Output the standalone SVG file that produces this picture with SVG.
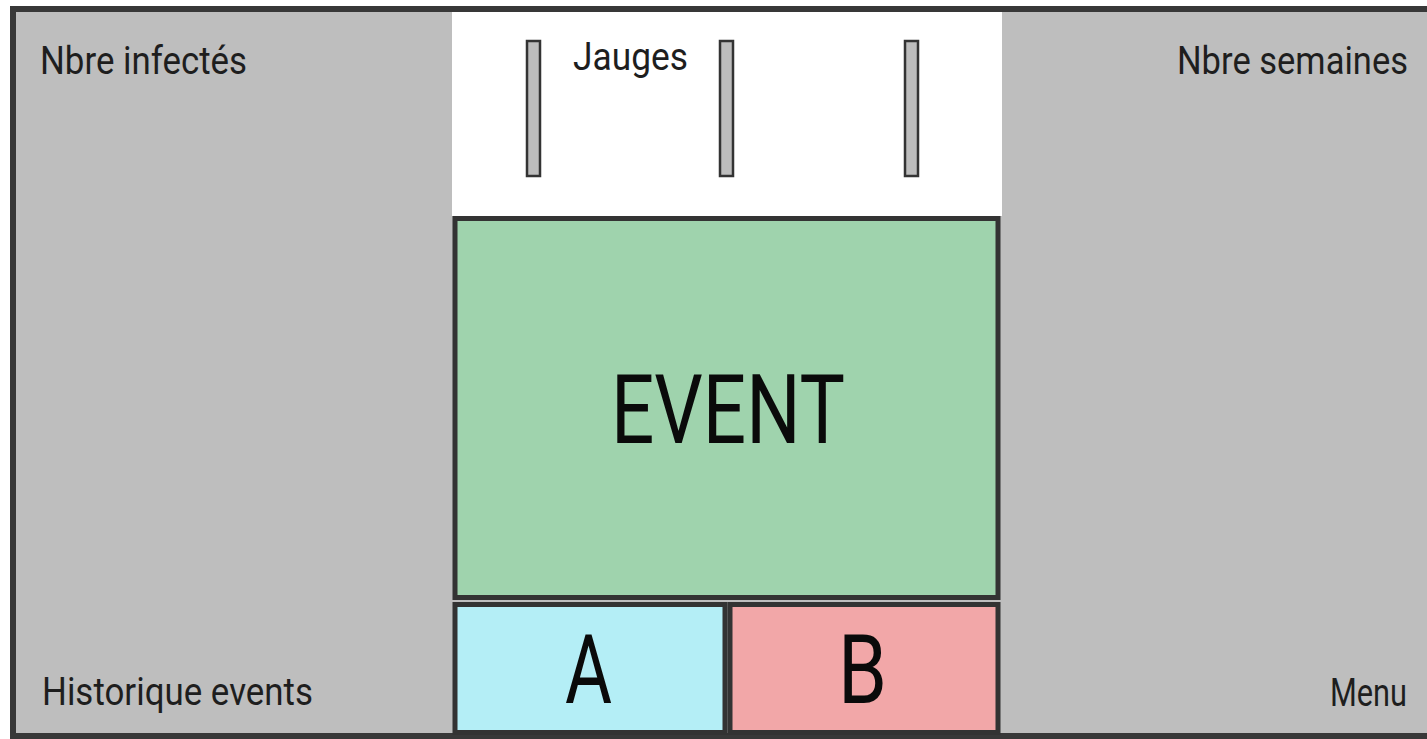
<svg xmlns="http://www.w3.org/2000/svg" width="1427" height="739" viewBox="0 0 1427 739">
<style>
.lbl{font-family:Roboto,"Liberation Sans",sans-serif;fill:#1e1e1e;font-size:38px}
.big{font-family:Roboto,"Liberation Sans",sans-serif;fill:#0a0a0a;text-anchor:middle}
.box{stroke:#333;stroke-width:5}
.gauge{fill:#bdbdbd;stroke:#333;stroke-width:2.5}
</style>
<g id="frame">
<rect x="13" y="9" width="1430" height="727" fill="#bebebe" stroke="#383838" stroke-width="6"/>
<rect x="452" y="12" width="550" height="204" fill="#ffffff"/>
</g>
<g id="labels">
<text class="lbl" x="40" y="74" textLength="207" lengthAdjust="spacingAndGlyphs">Nbre infectés</text>
<text class="lbl" x="1177" y="74" textLength="231" lengthAdjust="spacingAndGlyphs">Nbre semaines</text>
<text class="lbl" x="42" y="705" textLength="271" lengthAdjust="spacingAndGlyphs">Historique events</text>
<text class="lbl" x="1330" y="706" textLength="77" lengthAdjust="spacingAndGlyphs">Menu</text>
</g>
<g id="jauges">
<rect class="gauge" x="527" y="41" width="13" height="135"/>
<rect class="gauge" x="720" y="41" width="13" height="135"/>
<rect class="gauge" x="905" y="41" width="13" height="135"/>
<text class="lbl" x="573" y="70" font-size="34" textLength="115" lengthAdjust="spacingAndGlyphs">Jauges</text>
</g>
<g id="event">
<rect class="box" x="455" y="218.5" width="543" height="379" fill="#9fd3ad"/>
<text class="big" x="728" y="443" font-size="97" textLength="234" lengthAdjust="spacingAndGlyphs">EVENT</text>
</g>
<g id="a">
<rect class="box" x="455" y="604.5" width="270" height="128" fill="#b4eef6"/>
<text class="big" x="588.5" y="703" font-size="96" textLength="47" lengthAdjust="spacingAndGlyphs">A</text>
</g>
<g id="b">
<rect class="box" x="730" y="604.5" width="268" height="128" fill="#f2a7a8"/>
<text class="big" x="862.5" y="703" font-size="96" textLength="49" lengthAdjust="spacingAndGlyphs">B</text>
</g>
<g id="connectors"/>
</svg>
